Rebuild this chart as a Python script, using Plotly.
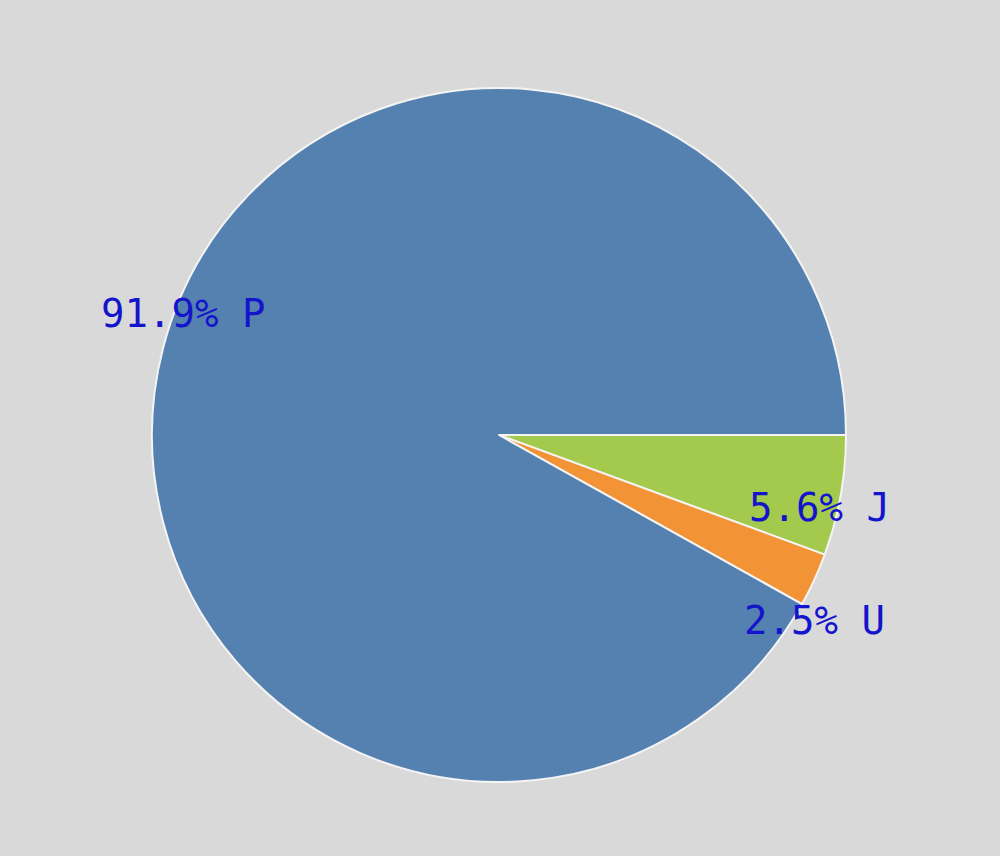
import math
import plotly.graph_objects as go

labels = ["J", "U", "P"]
values = [5.6, 2.5, 91.9]
colors = ["#A3CA4D", "#F29335", "#5581B0"]

W, H = 1000, 856
cx, cy, R = 499, 435, 347
# small per-label pixel nudges to match the original label placement
nudges = {"J": (-13, -8), "U": (13, 23), "P": (11, -15)}

fig = go.Figure(go.Pie(
    labels=labels, values=values, sort=False, direction="clockwise", rotation=90,
    marker=dict(colors=colors, line=dict(color="#f4f4f4", width=2)),
    textinfo="none", hoverinfo="label+percent", showlegend=False,
    domain=dict(x=[(cx - R) / W, (cx + R) / W], y=[1 - (cy + R) / H, 1 - (cy - R) / H]),
))

total = sum(values)
cum = 0.0
anns = []
for lab, v in zip(labels, values):
    mid = (cum + v / 2) / total * 360.0
    cum += v
    a = math.radians(mid + 3.5)
    px = cx + R * 0.99 * math.cos(a) + nudges[lab][0]
    py = cy + R * 0.99 * math.sin(a) + nudges[lab][1]
    anns.append(dict(
        x=px / W, y=1 - py / H, xref="paper", yref="paper",
        text=f"{v:.1f}% {lab}", showarrow=False, xanchor="center", yanchor="middle",
        font=dict(family="DejaVu Sans Mono", size=39, color="#1414CC"),
    ))

fig.update_layout(
    width=W, height=H, margin=dict(l=0, r=0, t=0, b=0),
    paper_bgcolor="#D9D9D9", plot_bgcolor="#D9D9D9",
    annotations=anns,
)
fig.write_html(
    "out.html",
    config={"displayModeBar": False},
    post_script="document.body.style.margin='0';document.body.style.background='#D9D9D9';document.body.style.overflow='hidden';",
)
